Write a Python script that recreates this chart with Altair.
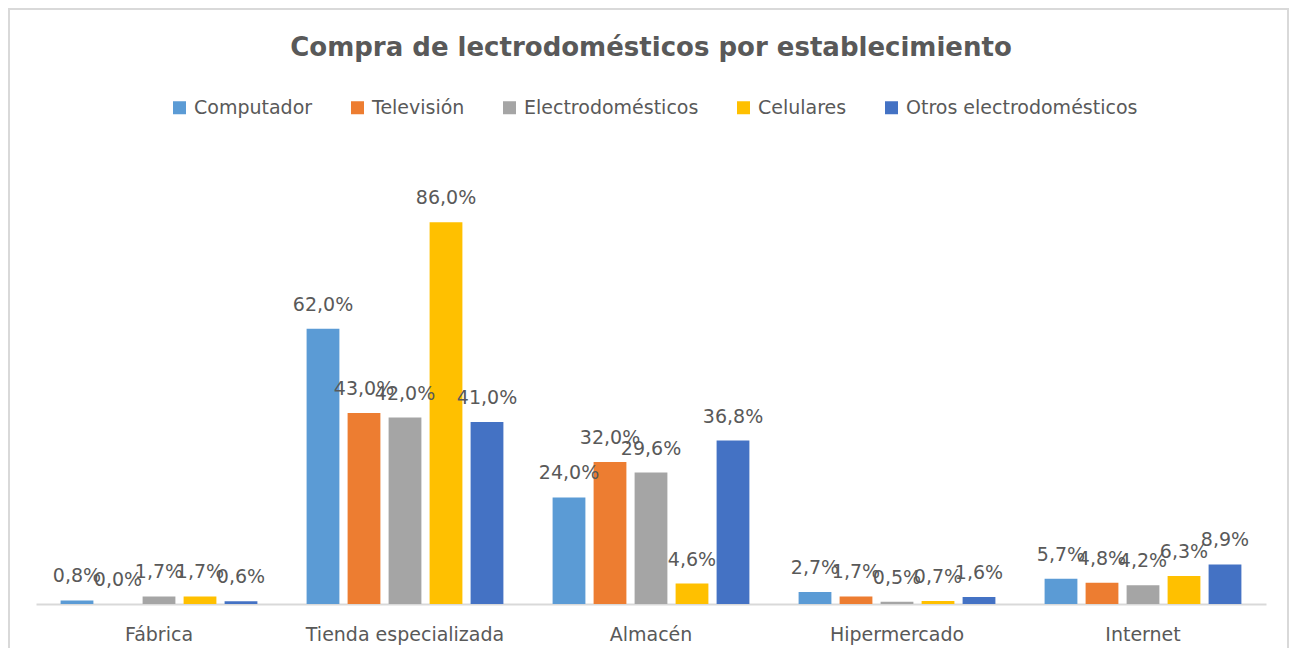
import altair as alt
import pandas as pd

categories = ["Fábrica", "Tienda especializada", "Almacén", "Hipermercado", "Internet"]
series = ["Computador", "Televisión", "Electrodomésticos", "Celulares", "Otros electrodomésticos"]
computador = [0.8, 62.0, 24.0, 2.7, 5.7]
television = [0.0, 43.0, 32.0, 1.7, 4.8]
electrodomesticos = [1.7, 42.0, 29.6, 0.5, 4.2]
celulares = [1.7, 86.0, 4.6, 0.7, 6.3]
otros = [0.6, 41.0, 36.8, 1.6, 8.9]
colors = ["#5B9BD5", "#ED7D31", "#A5A5A5", "#FFC000", "#4472C4"]

rows = []
for s, vals in zip(series, [computador, television, electrodomesticos, celulares, otros]):
    for c, v in zip(categories, vals):
        rows.append({"cat": c, "serie": s, "valor": v,
                     "etiqueta": f"{v:.1f}%".replace(".", ",")})
df = pd.DataFrame(rows)

FONT = "DejaVu Sans"
GRAY = "#595959"

base = alt.Chart(df).encode(
    x=alt.X("cat:N", sort=categories,
            scale=alt.Scale(paddingInner=0.2, paddingOuter=0.1),
            axis=alt.Axis(title=None, labelAngle=0, ticks=False, labelPadding=21,
                          labelFontSize=19, labelColor=GRAY, labelFont=FONT,
                          labelLimit=400,
                          domainColor="#D9D9D9", domainWidth=2)),
    xOffset=alt.XOffset("serie:N", sort=series,
                        scale=alt.Scale(paddingInner=0.2, paddingOuter=0)),
    y=alt.Y("valor:Q", scale=alt.Scale(domain=[0, 100]), axis=None),
)

bars = base.mark_bar().encode(
    color=alt.Color("serie:N", sort=series,
                    scale=alt.Scale(domain=series, range=colors),
                    legend=alt.Legend(orient="none", legendX=134, legendY=-62,
                                      direction="horizontal", title=None,
                                      symbolType="square", symbolSize=169,
                                      symbolStrokeWidth=0, labelFontSize=19,
                                      labelColor=GRAY, labelFont=FONT,
                                      labelLimit=400,
                                      columnPadding=35, labelOffset=5)),
)

text = base.mark_text(baseline="alphabetic", dy=-18, fontSize=19,
                      color=GRAY, font=FONT).encode(text="etiqueta:N")

border = alt.Chart(alt.Data(values=[{}])).mark_rect(
    filled=False, stroke="#D9D9D9", strokeWidth=2
).encode(x=alt.value(-27), x2=alt.value(1252), y=alt.value(-151), y2=alt.value(540))

chart = alt.layer(border, bars, text).properties(
    width=1230, height=444,
    autosize=alt.AutoSizeParams(type="none"),
    padding={"left": 28, "top": 152, "right": 23, "bottom": 44},
    title=alt.TitleParams("Compra de lectrodomésticos por establecimiento",
                          fontSize=26, font="DejaVu Sans", fontWeight="bold",
                          color=GRAY, anchor="middle", dy=57),
).configure_view(stroke=None)

chart.save("out.html", embed_options={"renderer": "svg", "actions": False})
